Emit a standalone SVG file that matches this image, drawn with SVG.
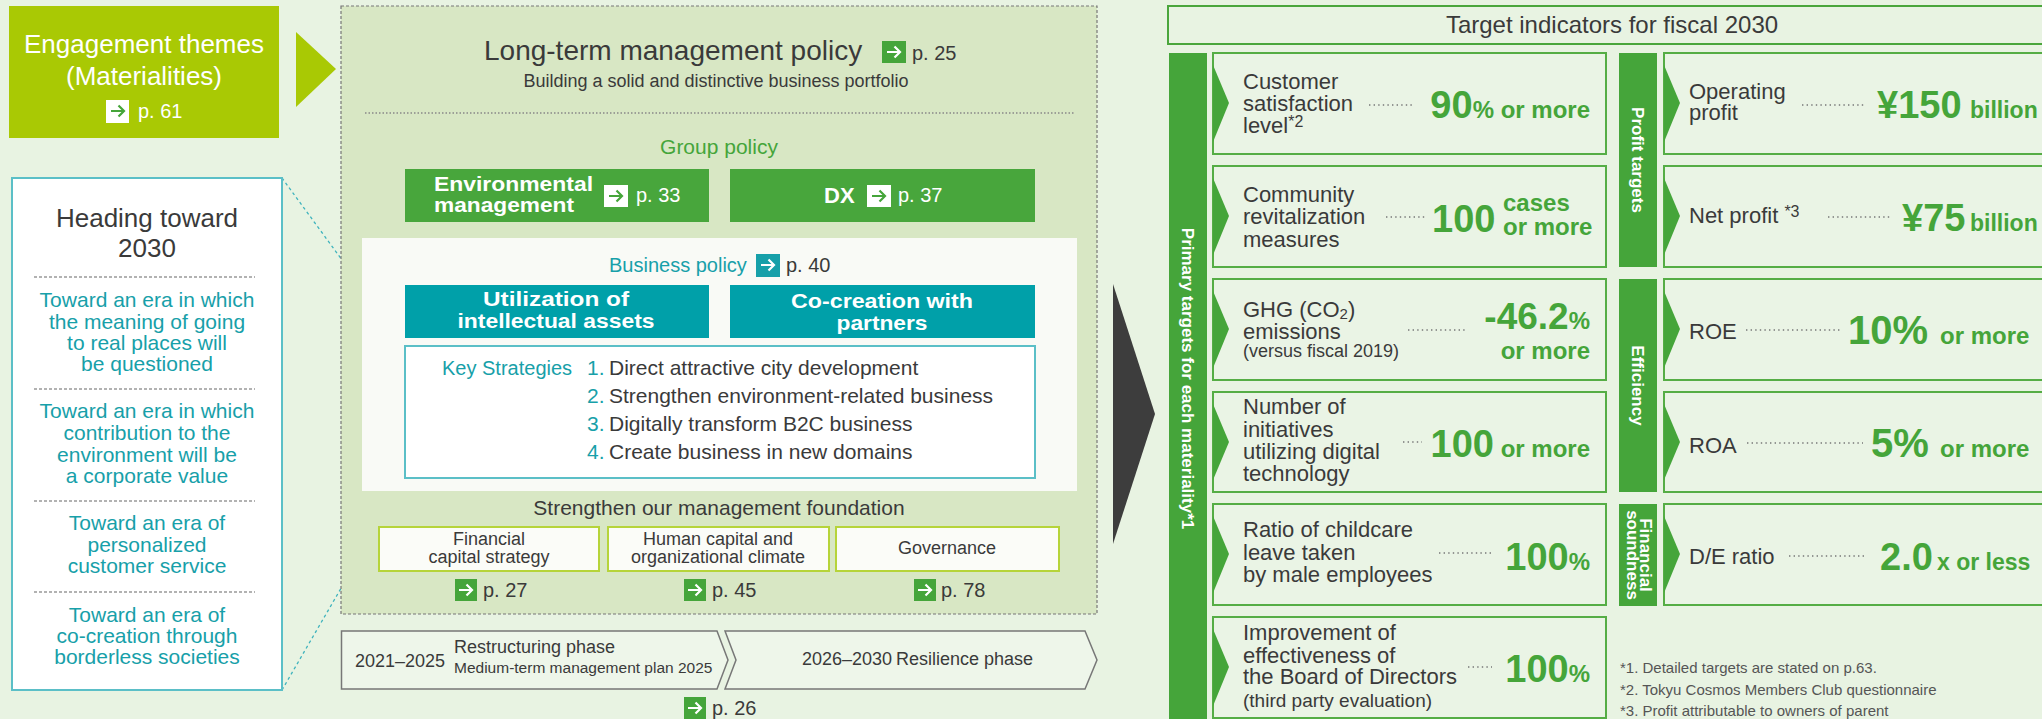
<svg xmlns="http://www.w3.org/2000/svg" xmlns:xlink="http://www.w3.org/1999/xlink" width="2042" height="719" viewBox="0 0 2042 719">
<style>
text{font-family:"Liberation Sans",Arial,sans-serif;fill:#3a3a3a}
.wt{fill:#fff}
.tl{fill:#17a0a9}
.gr{fill:#45a53a}
.b{font-weight:bold}
.c{text-anchor:middle}
.e{text-anchor:end}
.heads{font-size:21px}
.row{font-size:22px}
.big{font-size:38px;font-weight:bold}
.unit{font-size:24px;font-weight:bold}
.vt{font-size:17px;font-weight:bold;fill:#fff;text-anchor:middle}
.dots{stroke:#777;stroke-width:1.6;stroke-dasharray:1.4 3.2;fill:none}
.rowbox{fill:#eaf4e5;stroke:#55ad45;stroke-width:2}
.chev{fill:#45a53a}
.bar{fill:#45a53a}
.fbox{fill:#fbfcf8;stroke:#b6d43a;stroke-width:2}
.tbox{fill:#00a0a9}
.gbox{fill:#48a63c}
.foot{font-size:15px;fill:#555}
</style>
<defs>
<g id="arrW"><path d="M5 11H18M12.5 5.5L18 11L12.5 16.5" fill="none" stroke="#fff" stroke-width="2.2"/></g>
<g id="arrG"><path d="M5 11H18M12.5 5.5L18 11L12.5 16.5" fill="none" stroke="#45a53a" stroke-width="2.2"/></g>
</defs>
<rect x="0" y="0" width="2042" height="719" fill="#e8f3e2"/>

<g id="connectors">
<polygon points="296,32 336,69 296,107" fill="#a9c904"/>
<line x1="282" y1="178" x2="405" y2="346" stroke="#3fb3bd" stroke-width="1.3" stroke-dasharray="3 3"/>
<line x1="282" y1="690" x2="405" y2="478" stroke="#3fb3bd" stroke-width="1.3" stroke-dasharray="3 3"/>
<polygon points="1113,284 1155,414 1113,544" fill="#3d3d3d"/>
</g>

<g id="engagement">
<rect x="9" y="6" width="270" height="132" fill="#a9c904"/>
<text x="144" y="53" class="wt c" font-size="26">Engagement themes</text>
<text x="144" y="85" class="wt c" font-size="26">(Materialities)</text>
<rect x="106" y="100" width="23" height="23" fill="#fff"/>
<use xlink:href="#arrG" x="106" y="100"/>
<text x="138" y="118" class="wt" font-size="20">p. 61</text>
</g>

<g id="heading">
<rect x="12" y="178" width="270" height="512" fill="#fff" stroke="#5bbfc7" stroke-width="2"/>
<text x="147" y="227" class="c" font-size="26">Heading toward</text>
<text x="147" y="257" class="c" font-size="26">2030</text>
<g stroke="#666" stroke-width="1.2" stroke-dasharray="3 2">
<line x1="34" y1="277" x2="255" y2="277"/>
<line x1="34" y1="389" x2="255" y2="389"/>
<line x1="34" y1="501" x2="255" y2="501"/>
<line x1="34" y1="592" x2="255" y2="592"/>
</g>
<g class="heads">
<text x="147" y="307" class="tl c">Toward an era in which</text>
<text x="147" y="329" class="tl c">the meaning of going</text>
<text x="147" y="350" class="tl c">to real places will</text>
<text x="147" y="371" class="tl c">be questioned</text>
<text x="147" y="418" class="tl c">Toward an era in which</text>
<text x="147" y="440" class="tl c">contribution to the</text>
<text x="147" y="462" class="tl c">environment will be</text>
<text x="147" y="483" class="tl c">a corporate value</text>
<text x="147" y="530" class="tl c">Toward an era of</text>
<text x="147" y="552" class="tl c">personalized</text>
<text x="147" y="573" class="tl c">customer service</text>
<text x="147" y="622" class="tl c">Toward an era of</text>
<text x="147" y="643" class="tl c">co-creation through</text>
<text x="147" y="664" class="tl c">borderless societies</text>
</g>
</g>

<g id="policy-panel">
<rect x="341" y="6" width="756" height="608" fill="#d8e7c4" stroke="#777" stroke-width="1.2" stroke-dasharray="3 2"/>
<text x="484" y="60" font-size="28">Long-term management policy</text>
<rect x="882" y="41" width="24" height="22" fill="#45a53a"/>
<use xlink:href="#arrW" x="882" y="41"/>
<text x="912" y="60" font-size="20">p. 25</text>
<text x="716" y="87" class="c" font-size="18">Building a solid and distinctive business portfolio</text>
<line x1="365" y1="113" x2="1074" y2="113" stroke="#888" stroke-width="1.3" stroke-dasharray="1.5 2"/>
<text x="719" y="154" class="gr c" font-size="21">Group policy</text>
</g>

<g id="env-mgmt">
<rect x="405" y="169" width="304" height="53" class="gbox"/>
<text x="434" y="191" class="wt b" font-size="20" textLength="159" lengthAdjust="spacingAndGlyphs">Environmental</text>
<text x="434" y="212" class="wt b" font-size="20" textLength="140" lengthAdjust="spacingAndGlyphs">management</text>
<rect x="604" y="185" width="24" height="22" fill="#fff"/>
<use xlink:href="#arrG" x="604" y="185"/>
<text x="636" y="202" class="wt" font-size="20">p. 33</text>
</g>

<g id="dx">
<rect x="730" y="169" width="305" height="53" class="gbox"/>
<text x="824" y="203" class="wt b" font-size="22">DX</text>
<rect x="867" y="185" width="24" height="22" fill="#fff"/>
<use xlink:href="#arrG" x="867" y="185"/>
<text x="898" y="202" class="wt" font-size="20">p. 37</text>
</g>

<g id="business-policy">
<rect x="362" y="238" width="715" height="253" fill="#f9faf6"/>
<text x="609" y="272" class="tl" font-size="20">Business policy</text>
<rect x="756" y="254" width="24" height="23" fill="#17a0a9"/>
<use xlink:href="#arrW" x="756" y="254"/>
<text x="786" y="272" font-size="20">p. 40</text>
</g>

<g id="intellectual-assets">
<rect x="405" y="285" width="304" height="53" class="tbox"/>
<text x="556" y="306" class="wt b c" font-size="21" textLength="146" lengthAdjust="spacingAndGlyphs">Utilization of</text>
<text x="556" y="328" class="wt b c" font-size="21" textLength="197" lengthAdjust="spacingAndGlyphs">intellectual assets</text>
</g>

<g id="co-creation">
<rect x="730" y="285" width="305" height="53" class="tbox"/>
<text x="882" y="308" class="wt b c" font-size="21" textLength="182" lengthAdjust="spacingAndGlyphs">Co-creation with</text>
<text x="882" y="330" class="wt b c" font-size="21" textLength="91" lengthAdjust="spacingAndGlyphs">partners</text>
</g>

<g id="key-strategies">
<rect x="405" y="346" width="630" height="132" fill="#fff" stroke="#5bbfc7" stroke-width="2"/>
<text x="442" y="375" class="tl" font-size="20">Key Strategies</text>
<g font-size="21">
<text x="587" y="375" class="tl">1.</text><text x="609" y="375">Direct attractive city development</text>
<text x="587" y="403" class="tl">2.</text><text x="609" y="403">Strengthen environment-related business</text>
<text x="587" y="431" class="tl">3.</text><text x="609" y="431">Digitally transform B2C business</text>
<text x="587" y="459" class="tl">4.</text><text x="609" y="459">Create business in new domains</text>
</g>
</g>

<g id="foundation">
<text x="719" y="515" class="c" font-size="21">Strengthen our management foundation</text>
</g>

<g id="financial-capital">
<rect x="379" y="527" width="220" height="44" class="fbox"/>
<text x="489" y="545" class="c" font-size="18">Financial</text>
<text x="489" y="563" class="c" font-size="18">capital strategy</text>
<rect x="455" y="579" width="22" height="22" fill="#45a53a"/>
<use xlink:href="#arrW" x="454" y="579"/>
<text x="483" y="597" font-size="20">p. 27</text>
</g>

<g id="human-capital">
<rect x="608" y="527" width="221" height="44" class="fbox"/>
<text x="718" y="545" class="c" font-size="18">Human capital and</text>
<text x="718" y="563" class="c" font-size="18">organizational climate</text>
<rect x="684" y="579" width="22" height="22" fill="#45a53a"/>
<use xlink:href="#arrW" x="683" y="579"/>
<text x="712" y="597" font-size="20">p. 45</text>
</g>

<g id="governance">
<rect x="836" y="527" width="223" height="44" class="fbox"/>
<text x="947" y="554" class="c" font-size="18">Governance</text>
<rect x="914" y="579" width="22" height="22" fill="#45a53a"/>
<use xlink:href="#arrW" x="913" y="579"/>
<text x="941" y="597" font-size="20">p. 78</text>
</g>

<g id="phase-1">
<polygon points="341.5,631 717,631 728,660 717,689 341.5,689" fill="#eef6ea" stroke="#777" stroke-width="1.5"/>
<text x="355" y="667" font-size="18">2021–2025</text>
<text x="454" y="653" font-size="18">Restructuring phase</text>
<text x="454" y="673" font-size="15.5">Medium-term management plan 2025</text>
</g>

<g id="phase-2">
<polygon points="725,631 1085,631 1097,660 1085,689 725,689 736,660" fill="#eef6ea" stroke="#777" stroke-width="1.5"/>
<text x="802" y="665" font-size="18">2026–2030</text>
<text x="896" y="665" font-size="18">Resilience phase</text>
<rect x="684" y="697" width="22" height="22" fill="#45a53a"/>
<use xlink:href="#arrW" x="683" y="697"/>
<text x="712" y="715" font-size="20">p. 26</text>
</g>

<g id="target-header">
<rect x="1168" y="6" width="900" height="38" fill="none" stroke="#4aa63c" stroke-width="2"/>
<text x="1612" y="33" class="c" font-size="24">Target indicators for fiscal 2030</text>
</g>

<g id="primary-bar">
<rect x="1169" y="53" width="38" height="680" class="bar"/>
<text transform="translate(1182,378.5) rotate(90)" class="vt">Primary targets for each materiality*1</text>
</g>

<g id="customer-satisfaction">
<rect x="1213" y="53" width="393" height="101" class="rowbox"/>
<polygon points="1213,65 1229,103 1213,142" class="chev"/>
<text x="1243" y="89" class="row">Customer</text>
<text x="1243" y="111" class="row">satisfaction</text>
<text x="1243" y="133" class="row">level<tspan font-size="16" dy="-6">*2</tspan></text>
<line x1="1369" y1="105" x2="1415" y2="105" class="dots"/>
<text x="1590" y="118" class="gr e"><tspan class="big">90</tspan><tspan class="unit">% or more</tspan></text>
</g>

<g id="community">
<rect x="1213" y="166" width="393" height="101" class="rowbox"/>
<polygon points="1213,178 1229,216 1213,255" class="chev"/>
<text x="1243" y="202" class="row">Community</text>
<text x="1243" y="224" class="row">revitalization</text>
<text x="1243" y="247" class="row">measures</text>
<line x1="1386" y1="217" x2="1425" y2="217" class="dots"/>
<text x="1432" y="232" class="gr big">100</text>
<text x="1503" y="211" class="gr unit">cases</text>
<text x="1503" y="235" class="gr unit">or more</text>
</g>

<g id="ghg">
<rect x="1213" y="279" width="393" height="101" class="rowbox"/>
<polygon points="1213,291 1229,329 1213,368" class="chev"/>
<text x="1243" y="317" class="row">GHG (CO<tspan font-size="15" dy="2">2</tspan><tspan dy="-2">)</tspan></text>
<text x="1243" y="339" class="row">emissions</text>
<text x="1243" y="357" font-size="18">(versus fiscal 2019)</text>
<line x1="1408" y1="330" x2="1465" y2="330" class="dots"/>
<text x="1590" y="329" class="gr e"><tspan font-size="37" font-weight="bold">-46.2</tspan><tspan class="unit">%</tspan></text>
<text x="1590" y="359" class="gr e unit">or more</text>
</g>

<g id="digital">
<rect x="1213" y="392" width="393" height="100" class="rowbox"/>
<polygon points="1213,404 1229,442 1213,480" class="chev"/>
<text x="1243" y="414" class="row">Number of</text>
<text x="1243" y="437" class="row">initiatives</text>
<text x="1243" y="459" class="row">utilizing digital</text>
<text x="1243" y="481" class="row">technology</text>
<line x1="1403" y1="442" x2="1422" y2="442" class="dots"/>
<text x="1590" y="457" class="gr e"><tspan class="big">100</tspan><tspan class="unit"> or more</tspan></text>
</g>

<g id="childcare">
<rect x="1213" y="504" width="393" height="101" class="rowbox"/>
<polygon points="1213,516 1229,554 1213,593" class="chev"/>
<text x="1243" y="537" class="row">Ratio of childcare</text>
<text x="1243" y="560" class="row">leave taken</text>
<text x="1243" y="582" class="row">by male employees</text>
<line x1="1439" y1="553" x2="1491" y2="553" class="dots"/>
<text x="1590" y="570" class="gr e"><tspan class="big">100</tspan><tspan class="unit">%</tspan></text>
</g>

<g id="board">
<rect x="1213" y="617" width="393" height="101" class="rowbox"/>
<polygon points="1213,629 1229,667 1213,706" class="chev"/>
<text x="1243" y="640" class="row">Improvement of</text>
<text x="1243" y="663" class="row">effectiveness of</text>
<text x="1243" y="684" class="row">the Board of Directors</text>
<text x="1243" y="707" font-size="19">(third party evaluation)</text>
<line x1="1468" y1="667" x2="1492" y2="667" class="dots"/>
<text x="1590" y="682" class="gr e"><tspan class="big">100</tspan><tspan class="unit">%</tspan></text>
</g>

<g id="profit-bar">
<rect x="1619" y="53" width="38" height="214" class="bar"/>
<text transform="translate(1632,160) rotate(90)" class="vt">Profit targets</text>
</g>

<g id="efficiency-bar">
<rect x="1619" y="279" width="38" height="213" class="bar"/>
<text transform="translate(1632,385.5) rotate(90)" class="vt">Efficiency</text>
</g>

<g id="soundness-bar">
<rect x="1619" y="504" width="38" height="102" class="bar"/>
<text transform="translate(1640,555) rotate(90)" class="vt" font-size="14">Financial</text>
<text transform="translate(1627,555) rotate(90)" class="vt" font-size="14">soundness</text>
</g>

<g id="operating-profit">
<rect x="1664" y="53" width="400" height="101" class="rowbox"/>
<polygon points="1664,65 1680,103 1664,142" class="chev"/>
<text x="1689" y="99" class="row">Operating</text>
<text x="1689" y="120" class="row">profit</text>
<line x1="1802" y1="105" x2="1865" y2="105" class="dots"/>
<text x="1877" y="118" class="gr big">¥150</text>
<text x="1970" y="118" class="gr b" font-size="23">billion</text>
</g>

<g id="net-profit">
<rect x="1664" y="166" width="400" height="101" class="rowbox"/>
<polygon points="1664,178 1680,216 1664,255" class="chev"/>
<text x="1689" y="223" class="row">Net profit <tspan font-size="16" dy="-6">*3</tspan></text>
<line x1="1828" y1="217" x2="1890" y2="217" class="dots"/>
<text x="1902" y="231" class="gr big">¥75</text>
<text x="1970" y="231" class="gr b" font-size="23">billion</text>
</g>

<g id="roe">
<rect x="1664" y="279" width="400" height="101" class="rowbox"/>
<polygon points="1664,291 1680,329 1664,368" class="chev"/>
<text x="1689" y="339" class="row">ROE</text>
<line x1="1746" y1="330" x2="1840" y2="330" class="dots"/>
<text x="1848" y="344" class="gr b" font-size="40">10%</text>
<text x="1940" y="344" class="gr unit">or more</text>
</g>

<g id="roa">
<rect x="1664" y="392" width="400" height="100" class="rowbox"/>
<polygon points="1664,404 1680,442 1664,480" class="chev"/>
<text x="1689" y="453" class="row">ROA</text>
<line x1="1747" y1="443" x2="1863" y2="443" class="dots"/>
<text x="1871" y="457" class="gr b" font-size="40">5%</text>
<text x="1940" y="457" class="gr unit">or more</text>
</g>

<g id="de-ratio">
<rect x="1664" y="504" width="400" height="101" class="rowbox"/>
<polygon points="1664,516 1680,554 1664,593" class="chev"/>
<text x="1689" y="564" class="row">D/E ratio</text>
<line x1="1789" y1="556" x2="1867" y2="556" class="dots"/>
<text x="1880" y="570" class="gr big">2.0</text>
<text x="1937" y="570" class="gr b" font-size="23">x or less</text>
</g>

<g id="footnotes">
<text x="1620" y="673" class="foot">*1. Detailed targets are stated on p.63.</text>
<text x="1620" y="695" class="foot">*2. Tokyu Cosmos Members Club questionnaire</text>
<text x="1620" y="716" class="foot">*3. Profit attributable to owners of parent</text>
</g>
</svg>
